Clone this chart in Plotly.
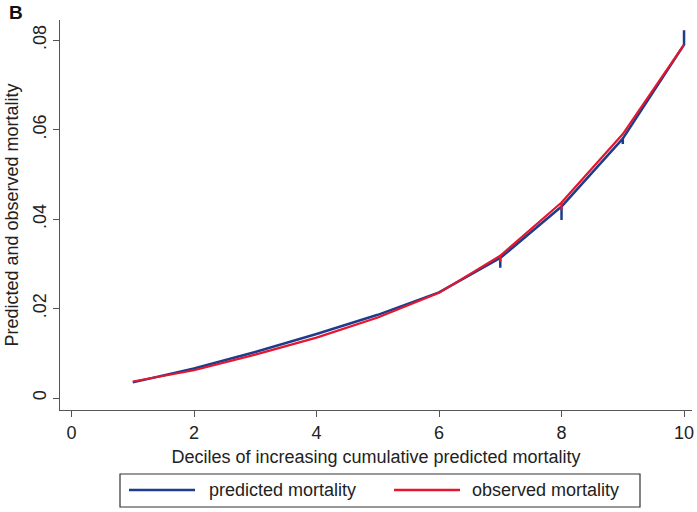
import plotly.graph_objects as go

# Data
pred_x = [1, 2, 3, 4, 5, 6, 7, 7, 7, 8, 8, 8, 9, 9, 9, 10, 10]
pred_y = [0.0035, 0.0066, 0.0103, 0.0143, 0.0186, 0.0236, 0.0313, 0.0291, 0.0313,
          0.0428, 0.0398, 0.0428, 0.0580, 0.0568, 0.0580, 0.0790, 0.0822]
obs_x = [1, 2, 3, 4, 5, 6, 7, 7, 7, 8, 8, 8, 9, 10]
obs_y = [0.0037, 0.0062, 0.0097, 0.0135, 0.0180, 0.0235, 0.0318, 0.0305, 0.0318,
         0.0437, 0.0420, 0.0437, 0.0590, 0.0790]
series_names = ["predicted mortality", "observed mortality"]
x_ticks = [0, 2, 4, 6, 8, 10]
y_ticks = [0, 0.02, 0.04, 0.06, 0.08]
y_ticklabels = ["0", ".02", ".04", ".06", ".08"]

BLUE = "#1f3b8c"
RED = "#e3172f"
FONT = "Liberation Sans, Arial, sans-serif"
W, H = 697, 512
L, R, T, B = 60, 5, 20, 102

def px(xp):
    return (xp - L) / (W - L - R)

def py(yp):
    return (H - B - yp) / (H - T - B)

fig = go.Figure()
fig.add_trace(go.Scatter(x=pred_x, y=pred_y, mode="lines", name=series_names[0],
                         line=dict(color=BLUE, width=2.5)))
fig.add_trace(go.Scatter(x=obs_x, y=obs_y, mode="lines", name=series_names[1],
                         line=dict(color=RED, width=2.2)))

axis_common = dict(showgrid=False, zeroline=False, showline=True, linecolor="#555555",
                   linewidth=1.3, ticks="outside", ticklen=6, tickcolor="#555555",
                   tickfont=dict(family=FONT, size=18, color="#222222"))
fig.update_xaxes(range=[-0.188, 10.13], tickvals=x_ticks, ticktext=[str(v) for v in x_ticks],
                 title=dict(text="Deciles of increasing cumulative predicted mortality",
                            font=dict(family=FONT, size=18, color="#222222"), standoff=8),
                 **axis_common)
fig.update_yaxes(range=[-0.00268, 0.0845], tickvals=y_ticks, ticktext=y_ticklabels,
                 tickangle=-90,
                 title=dict(text="Predicted and observed mortality",
                            font=dict(family=FONT, size=18, color="#222222"), standoff=6),
                 **axis_common)

shapes = [
    dict(type="rect", xref="paper", yref="paper", x0=px(120), x1=px(640), y0=py(474), y1=py(507),
         line=dict(color="#333333", width=1.2), fillcolor="white", layer="above"),
    dict(type="line", xref="paper", yref="paper", x0=px(129), x1=px(195), y0=py(490), y1=py(490),
         line=dict(color=BLUE, width=2.6)),
    dict(type="line", xref="paper", yref="paper", x0=px(394), x1=px(460), y0=py(490), y1=py(490),
         line=dict(color=RED, width=2.6)),
]
annotations = [
    dict(text="<b>B</b>", xref="paper", yref="paper", x=px(7), y=py(12), xanchor="left",
         yanchor="middle", showarrow=False, font=dict(family=FONT, size=19, color="#111111")),
    dict(text=series_names[0], xref="paper", yref="paper", x=px(207), y=py(490), xanchor="left",
         yanchor="middle", showarrow=False, font=dict(family=FONT, size=18, color="#222222")),
    dict(text=series_names[1], xref="paper", yref="paper", x=px(470), y=py(490), xanchor="left",
         yanchor="middle", showarrow=False, font=dict(family=FONT, size=18, color="#222222")),
]

fig.update_layout(width=W, height=H, margin=dict(l=L, r=R, t=T, b=B, autoexpand=False),
                  paper_bgcolor="white", plot_bgcolor="white", showlegend=False,
                  shapes=shapes, annotations=annotations)

fig.write_html("out.html", config={"displayModeBar": False},
               post_script="document.body.style.margin='0';document.body.style.overflow='hidden';")
